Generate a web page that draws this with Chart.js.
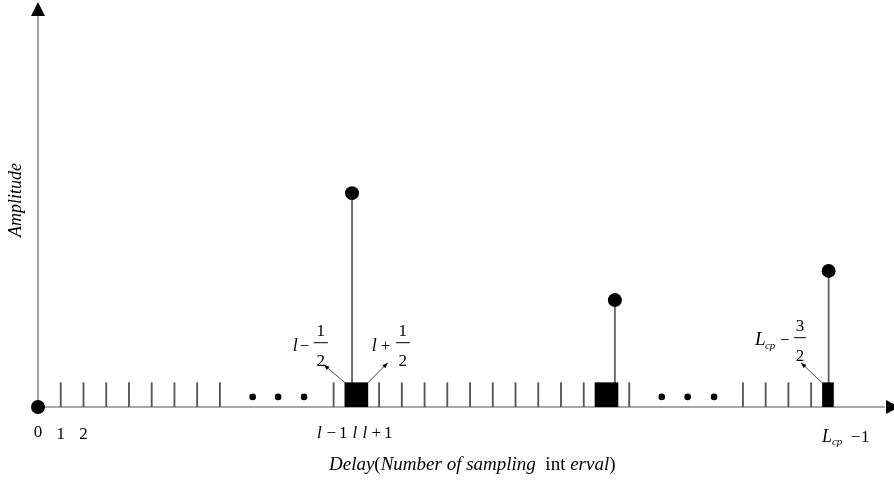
<!DOCTYPE html>
<html>
<head>
<meta charset="utf-8">
<script src="https://cdn.jsdelivr.net/npm/chart.js@4/dist/chart.umd.min.js"></script>
<style>
  html, body { margin: 0; padding: 0; background: #fff; }
  #c { display: block; }
</style>
</head>
<body>
<canvas id="c" width="894" height="484"></canvas>
<script>
// delay positions (in sampling intervals) and amplitudes
var tickDelays = [1, 2, 3, 4, 5, 6, 7, 8, 13, 15, 16, 17, 18, 19, 20, 21, 22, 23, 24, 26, 31, 32, 33, 34];
var tickLevel = 0.6;
var pathDelays = [0, 13.81, 25.37, 34.77];
var pathAmps = [0, 5.28, 2.64, 3.36];
var wideBlockDelays = [14, 25];
var narrowBlockDelays = [34.74];
var blockLevel = 0.6;
var ellipsisDelays = [9.44, 10.56, 11.7, 27.43, 28.57, 29.73];
var ellipsisLevel = 0.25;
var tickLabels = ['0', '1', '2'];

var SERIF = "'Liberation Serif', 'Times New Roman', serif";

function pts(xs, ys) {
	var out = [];
	for (var i = 0; i < xs.length; i++) {
		out.push({x: xs[i], y: Array.isArray(ys) ? ys[i] : ys});
	}
	return out;
}

function arrowLine(ctx, x1, y1, x2, y2) {
	ctx.beginPath();
	ctx.moveTo(x1, y1);
	ctx.lineTo(x2, y2);
	ctx.stroke();
	var a = Math.atan2(y2 - y1, x2 - x1);
	ctx.beginPath();
	ctx.moveTo(x2, y2);
	ctx.lineTo(x2 - 6 * Math.cos(a - 0.35), y2 - 6 * Math.sin(a - 0.35));
	ctx.lineTo(x2 - 6 * Math.cos(a + 0.35), y2 - 6 * Math.sin(a + 0.35));
	ctx.closePath();
	ctx.fill();
}

function frac(ctx, cx, num, den, barY, halfW) {
	ctx.font = '17px ' + SERIF;
	ctx.textAlign = 'center';
	ctx.textBaseline = 'alphabetic';
	ctx.fillText(num, cx, barY - 7);
	ctx.fillText(den, cx, barY + 23);
	ctx.beginPath();
	ctx.moveTo(cx - halfW, barY);
	ctx.lineTo(cx + halfW, barY);
	ctx.lineWidth = 1;
	ctx.strokeStyle = '#000';
	ctx.stroke();
}

var axesPlugin = {
	id: 'axesPlugin',
	beforeDatasetsDraw: function(chart) {
		var ctx = chart.ctx;
		var xs = chart.scales.x, ys = chart.scales.y;
		var x0 = xs.getPixelForValue(0), y0 = ys.getPixelForValue(0);
		var xEnd = xs.getPixelForValue(xs.max), yTop = ys.getPixelForValue(ys.max);
		ctx.save();
		ctx.strokeStyle = '#8c8c8c';
		ctx.lineWidth = 1.6;
		ctx.beginPath();
		ctx.moveTo(x0, y0);
		ctx.lineTo(xEnd - 8, y0);
		ctx.moveTo(x0, y0);
		ctx.lineTo(x0, yTop + 12);
		ctx.stroke();
		ctx.fillStyle = '#000';
		// y arrow
		ctx.beginPath();
		ctx.moveTo(x0, yTop);
		ctx.lineTo(x0 - 7, yTop + 14);
		ctx.lineTo(x0 + 7, yTop + 14);
		ctx.closePath();
		ctx.fill();
		// x arrow
		ctx.beginPath();
		ctx.moveTo(xEnd + 6, y0);
		ctx.lineTo(xEnd - 7, y0 - 7);
		ctx.lineTo(xEnd - 7, y0 + 7);
		ctx.closePath();
		ctx.fill();
		ctx.restore();
	},
	afterDraw: function(chart) {
		var ctx = chart.ctx;
		var xs = chart.scales.x, ys = chart.scales.y;
		var y0 = ys.getPixelForValue(0);
		ctx.save();
		ctx.fillStyle = '#000';
		ctx.textBaseline = 'alphabetic';

		// numeric tick labels
		ctx.font = '17px ' + SERIF;
		ctx.textAlign = 'center';
		for (var i = 0; i < tickLabels.length; i++) {
			ctx.fillText(tickLabels[i], xs.getPixelForValue(i), y0 + (i === 0 ? 30 : 32));
		}

		// l-1 l l+1
		var lx = xs.getPixelForValue(wideBlockDelays[0]);
		var by = y0 + 31;
		ctx.font = 'italic 17px ' + SERIF;
		ctx.fillText('l', lx - 37, by);
		ctx.fillText('l', lx - 1.5, by);
		ctx.fillText('l', lx + 8.5, by);
		ctx.font = '17px ' + SERIF;
		ctx.fillText('\u2212', lx - 25, by);
		ctx.fillText('1', lx - 13, by);
		ctx.fillText('+', lx + 20, by);
		ctx.fillText('1', lx + 32, by);

		// L_cp - 1
		var nx = xs.getPixelForValue(narrowBlockDelays[0]);
		ctx.textAlign = 'left';
		ctx.font = 'italic 18px ' + SERIF;
		ctx.fillText('L', nx - 6, y0 + 35);
		ctx.font = 'italic 11px ' + SERIF;
		ctx.fillText('cp', nx + 4, y0 + 38);
		ctx.font = '17px ' + SERIF;
		ctx.fillText('\u2212', nx + 23, y0 + 35);
		ctx.fillText('1', nx + 33, y0 + 35);

		// fraction annotations
		var sq1L = lx - 11.5, sq1R = lx + 11.5, sqTop = ys.getPixelForValue(blockLevel);
		ctx.strokeStyle = '#333';
		ctx.lineWidth = 0.9;
		arrowLine(ctx, sq1L, sqTop, sq1L - 21, sqTop - 18);
		arrowLine(ctx, sq1R, sqTop, sq1R + 20, sqTop - 20);
		arrowLine(ctx, nx - 6, sqTop, nx - 27, sqTop - 20);

		ctx.textAlign = 'left';
		ctx.font = 'italic 18px ' + SERIF;
		ctx.fillText('l', sq1L - 52, sqTop - 32);
		ctx.font = '17px ' + SERIF;
		ctx.fillText('\u2212', sq1L - 45, sqTop - 32);
		frac(ctx, sq1L - 24, '1', '2', sqTop - 40, 7);

		ctx.textAlign = 'left';
		ctx.font = 'italic 18px ' + SERIF;
		ctx.fillText('l', sq1R + 4, sqTop - 32);
		ctx.font = '17px ' + SERIF;
		ctx.fillText('+', sq1R + 13, sqTop - 32);
		frac(ctx, sq1R + 35, '1', '2', sqTop - 40, 7);

		ctx.textAlign = 'left';
		ctx.font = 'italic 19px ' + SERIF;
		ctx.fillText('L', nx - 73, sqTop - 38);
		ctx.font = 'italic 11px ' + SERIF;
		ctx.fillText('cp', nx - 63, sqTop - 34);
		ctx.font = '17px ' + SERIF;
		ctx.fillText('\u2212', nx - 48, sqTop - 38);
		frac(ctx, nx - 28, '3', '2', sqTop - 45, 6);

		// axis titles
		var tx = 329, ty = y0 + 63;
		var parts = [['Delay', true], ['(', false], ['Number of sampling ', true], [' int ', false], ['erval', true], [')', false]];
		ctx.textAlign = 'left';
		for (var p = 0; p < parts.length; p++) {
			ctx.font = (parts[p][1] ? 'italic ' : '') + '19px ' + SERIF;
			ctx.fillText(parts[p][0], tx, ty);
			tx += ctx.measureText(parts[p][0]).width;
		}

		ctx.translate(21, 200);
		ctx.rotate(-Math.PI / 2);
		ctx.textAlign = 'center';
		ctx.font = 'italic 18px ' + SERIF;
		ctx.fillText('Amplitude', 0, 0);
		ctx.restore();
	}
};

var ctx = document.getElementById('c').getContext('2d');
var chart = new Chart(ctx, {
	type: 'bar',
	data: {
		datasets: [
			{
				label: 'ticks',
				data: pts(tickDelays, tickLevel),
				backgroundColor: '#555',
				barThickness: 1.2,
				grouped: false,
				order: 4
			},
			{
				label: 'stems',
				data: pts(pathDelays, pathAmps),
				backgroundColor: '#666',
				barThickness: 1.2,
				grouped: false,
				order: 3
			},
			{
				label: 'blocks',
				data: pts(wideBlockDelays, blockLevel),
				backgroundColor: '#000',
				barThickness: 23,
				grouped: false,
				order: 2
			},
			{
				label: 'narrow block',
				data: pts(narrowBlockDelays, blockLevel),
				backgroundColor: '#000',
				barThickness: 11,
				grouped: false,
				order: 2
			},
			{
				type: 'scatter',
				label: 'paths',
				data: pts(pathDelays, pathAmps),
				pointRadius: 7,
				pointBackgroundColor: '#000',
				pointBorderWidth: 0,
				clip: false,
				order: 0
			},
			{
				type: 'scatter',
				label: 'ellipsis',
				data: pts(ellipsisDelays, ellipsisLevel),
				pointRadius: 3.3,
				pointBackgroundColor: '#000',
				pointBorderWidth: 0,
				clip: false,
				order: 1
			}
		]
	},
	options: {
		responsive: false,
		animation: false,
		devicePixelRatio: 1,
		layout: { autoPadding: false, padding: { left: 38, right: 1, top: 2, bottom: 77 } },
		plugins: { legend: { display: false }, tooltip: { enabled: false } },
		events: [],
		scales: {
			x: { type: 'linear', min: 0, max: 37.6, offset: false, display: false },
			y: { type: 'linear', min: 0, max: 10, display: false }
		}
	},
	plugins: [axesPlugin]
});
</script>
</body>
</html>
